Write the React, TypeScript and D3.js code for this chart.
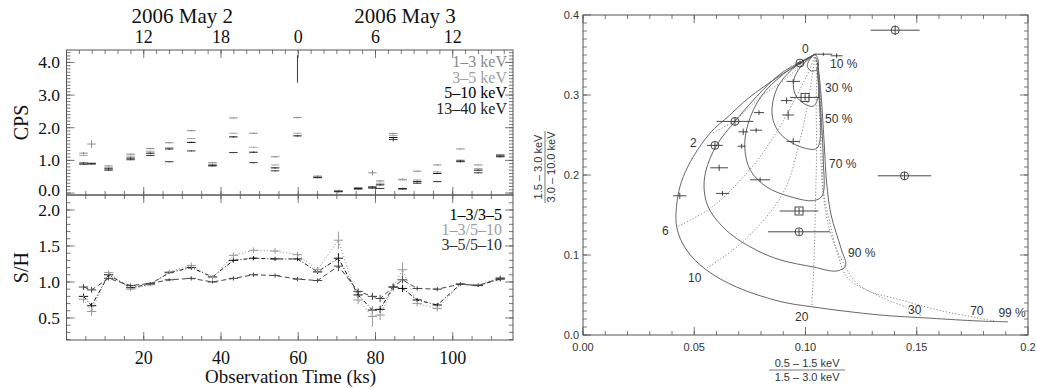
import React, { useEffect, useRef } from 'react';
import * as d3 from 'd3';

// time bins (ks) shared by both light-curve panels
const times = [4.4, 6.5, 10.9, 16.6, 21.7, 26.6, 32.3, 37.8, 43.2, 48.4, 54.0, 59.8, 65.0, 70.4, 75.5, 79.2, 81.2, 84.6, 87.0, 90.8, 96.0, 102.0, 106.6, 112.3];

// count rates per band
const cps13 = [1.22, 1.50, 0.83, 1.19, 1.36, 1.54, 1.91, 0.93, 2.30, 1.83, 1.11, 2.31, 0.52, 0.08, 0.17, 0.62, 0.37, 1.82, 0.42, 0.67, 0.86, 1.35, 0.86, 1.18];
const cps35 = [1.15, 0.92, 0.78, 1.13, 1.28, 1.39, 1.67, 0.88, 1.83, 1.40, 0.86, 1.83, 0.50, 0.06, 0.15, 0.20, 0.30, 1.76, 0.40, 0.40, 0.65, 1.01, 0.75, 1.15];
const cps510 = [0.92, 0.90, 0.74, 1.07, 1.22, 1.35, 1.55, 0.85, 1.72, 1.25, 0.77, 1.75, 0.48, 0.05, 0.14, 0.18, 0.25, 1.70, 0.14, 0.35, 0.60, 0.98, 0.70, 1.13];
const cps1340 = [0.88, 0.89, 0.70, 1.02, 1.15, 0.96, 1.29, 0.83, 1.24, 0.93, 0.68, 3.80, 0.47, 0.04, 0.12, 0.15, 0.14, 1.64, 0.12, 0.30, 0.35, 0.96, 0.62, 1.11];
const cpsErr13 = [0.04, 0.12, 0.02, 0.02, 0.02, 0.02, 0.02, 0.02, 0.02, 0.02, 0.02, 0.02, 0.02, 0.02, 0.02, 0.08, 0.03, 0.03, 0.03, 0.02, 0.02, 0.02, 0.02, 0.02];
const cpsErr1340 = [0.02, 0.02, 0.02, 0.02, 0.02, 0.02, 0.02, 0.02, 0.02, 0.02, 0.02, 0.42, 0.02, 0.02, 0.02, 0.02, 0.02, 0.06, 0.02, 0.02, 0.02, 0.02, 0.02, 0.02];

// hardness ratios
const hr13_35 = [0.80, 0.67, 1.10, 0.92, 0.97, 1.13, 1.20, 1.07, 1.30, 1.33, 1.32, 1.32, 1.14, 1.33, 0.82, 0.61, 0.62, 0.93, 0.91, 0.75, 0.68, 0.97, 0.95, 1.04];
const hr13_510 = [0.76, 0.59, 1.13, 0.90, 0.96, 1.14, 1.23, 1.06, 1.37, 1.44, 1.43, 1.38, 1.17, 1.58, 0.75, 0.52, 0.54, 0.93, 1.17, 0.70, 0.63, 0.97, 0.96, 1.06];
const hr35_510 = [0.93, 0.89, 1.05, 0.95, 0.98, 1.03, 1.05, 1.00, 1.05, 1.10, 1.09, 1.04, 1.02, 1.22, 0.87, 0.80, 0.77, 0.93, 1.03, 0.91, 0.90, 0.97, 0.95, 1.05];
const hrErr13_35 = [0.04, 0.04, 0.03, 0.03, 0.02, 0.02, 0.03, 0.02, 0.03, 0.03, 0.03, 0.03, 0.03, 0.07, 0.04, 0.05, 0.05, 0.04, 0.05, 0.03, 0.03, 0.02, 0.02, 0.03];
const hrErr13_510 = [0.05, 0.06, 0.03, 0.03, 0.02, 0.03, 0.04, 0.03, 0.04, 0.04, 0.04, 0.04, 0.04, 0.12, 0.06, 0.14, 0.07, 0.06, 0.10, 0.04, 0.04, 0.03, 0.03, 0.03];

// axes of the light curves
const hourTicks = [12, 18, 24, 30, 36];
const hourLabels = ['12', '18', '0', '6', '12'];
const ksTicks = [20, 40, 60, 80, 100];
const cpsTicks = [0, 1, 2, 3, 4];
const hrTicks = [0.5, 1.0, 1.5, 2.0];
const cpsLegend = ['1\u20133 keV', '3\u20135 keV', '5\u201310 keV', '13\u201340 keV'];
const hrLegend = ['1\u20133/3\u20135', '1\u20133/5\u201310', '3\u20135/5\u201310'];

// colour-colour diagram: observed points
const ccX = [0.1403, 0.1445, 0.0998, 0.0971, 0.0971, 0.0683, 0.0593, 0.0975, 0.0945, 0.0915, 0.0922, 0.0791, 0.0720, 0.0778, 0.0945, 0.0713, 0.0612, 0.0796, 0.0627, 0.0435, 0.1140, 0.1080];
const ccY = [0.381, 0.199, 0.297, 0.155, 0.129, 0.267, 0.237, 0.340, 0.317, 0.293, 0.275, 0.278, 0.254, 0.256, 0.242, 0.236, 0.209, 0.194, 0.177, 0.174, 0.349, 0.351];
const ccXErr = [0.011, 0.012, 0.0067, 0.0087, 0.0139, 0.0083, 0.0036, 0.0015, 0.003, 0.0026, 0.0026, 0.0023, 0.0022, 0.0027, 0.003, 0.0018, 0.004, 0.0045, 0.003, 0.003, 0.0027, 0.004];
const ccYErr = [0.006, 0.005, 0.004, 0.004, 0.004, 0.005, 0.004, 0.003, 0.003, 0.004, 0.006, 0.003, 0.004, 0.003, 0.004, 0.003, 0.004, 0.003, 0.003, 0.004, 0.003, 0.002];
const ccMark = ['o', 'o', 's', 's', 'o', 'o', 'o', 'o', '+', '+', '+', '+', '+', '+', '+', '+', '+', '+', '+', '+', '+', '+'];

// partial-covering model grid: constant covering fraction (solid)
const cover10 = [[0.1043, 0.351], [0.1018, 0.344], [0.1008, 0.336], [0.1025, 0.330], [0.1052, 0.332], [0.1058, 0.342], [0.1048, 0.350]];
const cover30 = [[0.1043, 0.351], [0.098, 0.336], [0.0947, 0.318], [0.0955, 0.300], [0.0995, 0.289], [0.1035, 0.286], [0.1058, 0.298], [0.1060, 0.325], [0.1050, 0.346]];
const cover50 = [[0.1043, 0.351], [0.094, 0.332], [0.0875, 0.310], [0.0850, 0.285], [0.0855, 0.268], [0.0885, 0.252], [0.094, 0.240], [0.1005, 0.233], [0.1050, 0.233], [0.1066, 0.245], [0.1063, 0.290], [0.1052, 0.335]];
const cover70 = [[0.1043, 0.351], [0.090, 0.326], [0.0800, 0.298], [0.0743, 0.265], [0.0727, 0.235], [0.0752, 0.206], [0.0826, 0.185], [0.093, 0.173], [0.1035, 0.168], [0.1075, 0.174], [0.108, 0.219], [0.1068, 0.281], [0.1055, 0.330]];
const cover90 = [[0.1043, 0.351], [0.089, 0.327], [0.0780, 0.298], [0.0683, 0.267], [0.0600, 0.237], [0.0552, 0.205], [0.0545, 0.180], [0.057, 0.156], [0.066, 0.127], [0.078, 0.106], [0.0885, 0.094], [0.1035, 0.085], [0.1140, 0.080], [0.1180, 0.0865], [0.1160, 0.108], [0.1115, 0.150], [0.1095, 0.190], [0.1085, 0.235], [0.1070, 0.300], [0.1055, 0.340]];
const cover99 = [[0.1043, 0.351], [0.089, 0.325], [0.0743, 0.296], [0.066, 0.275], [0.057, 0.252], [0.0496, 0.223], [0.0451, 0.198], [0.0426, 0.173], [0.0421, 0.135], [0.0466, 0.106], [0.0556, 0.081], [0.069, 0.060], [0.0885, 0.042], [0.1035, 0.035], [0.1335, 0.025], [0.156, 0.021], [0.178, 0.0175], [0.191, 0.0165]];

// constant column density (dotted)
const nh2 = [[0.1043, 0.351], [0.1005, 0.342], [0.097, 0.334], [0.090, 0.318], [0.080, 0.298], [0.068, 0.268], [0.058, 0.252]];
const nh6 = [[0.1043, 0.351], [0.1022, 0.334], [0.0958, 0.298], [0.0875, 0.256], [0.076, 0.210], [0.058, 0.160], [0.0421, 0.135]];
const nh10 = [[0.1043, 0.351], [0.1035, 0.333], [0.1013, 0.294], [0.0978, 0.247], [0.090, 0.178], [0.072, 0.117], [0.0553, 0.083]];
const nh20 = [[0.1043, 0.351], [0.1050, 0.330], [0.1048, 0.286], [0.1050, 0.233], [0.1045, 0.169], [0.1038, 0.090], [0.1028, 0.035]];
const nh30 = [[0.1043, 0.351], [0.1058, 0.325], [0.1060, 0.300], [0.1066, 0.250], [0.1078, 0.180], [0.1115, 0.125], [0.1180, 0.085], [0.123, 0.065], [0.1335, 0.048], [0.1455, 0.034], [0.152, 0.024]];
const nh70 = [[0.1043, 0.351], [0.1062, 0.320], [0.1070, 0.280], [0.1075, 0.230], [0.108, 0.181], [0.111, 0.140], [0.1148, 0.098], [0.1185, 0.073], [0.1275, 0.056], [0.1425, 0.044], [0.160, 0.031], [0.176, 0.022], [0.185, 0.0175]];

const gridLabels = ['0', '10 %', '30 %', '50 %', '70 %', '90 %', '99 %', '70', '30', '20', '10', '6', '2'];
const gridLabelX = [0.0984, 0.1110, 0.1088, 0.1088, 0.1106, 0.1191, 0.1867, 0.1740, 0.1461, 0.0953, 0.0472, 0.0355, 0.0481];
const gridLabelY = [0.3525, 0.334, 0.304, 0.265, 0.209, 0.098, 0.0225, 0.025, 0.026, 0.0175, 0.066, 0.125, 0.235];

const ccXTicks = [0, 0.05, 0.1, 0.15, 0.2];
const ccXLabels = ['0.00', '0.05', '0.10', '0.15', '0.2'];
const ccYTicks = [0, 0.1, 0.2, 0.3, 0.4];

const App: React.FC = () => {
  const svgRef = useRef<SVGSVGElement>(null);

  useEffect(() => {
    if (!svgRef.current) return;
    const svg = d3.select(svgRef.current);
    svg.selectAll('*').remove();

    const serif = '"Liberation Serif", "Times New Roman", serif';
    const sans = '"Liberation Sans", Arial, sans-serif';
    const axisCol = '#555';

    const ticks = (g: any, vals: number[], pos: (v: number) => number, at: number, len: number, vertical: boolean) => {
      g.append('g').selectAll('line').data(vals).join('line')
        .attr('x1', (d: number) => (vertical ? pos(d) : at))
        .attr('x2', (d: number) => (vertical ? pos(d) : at + len))
        .attr('y1', (d: number) => (vertical ? at : pos(d)))
        .attr('y2', (d: number) => (vertical ? at + len : pos(d)))
        .attr('stroke', axisCol)
        .attr('stroke-width', 0.8);
    };
    const frame = (x0: number, y0: number, x1: number, y1: number) =>
      svg.append('rect').attr('x', x0).attr('y', y0).attr('width', x1 - x0).attr('height', y1 - y0)
        .attr('fill', 'none').attr('stroke', axisCol).attr('stroke-width', 1);

    // ---------- left: light curve + hardness ----------
    const xT = d3.scaleLinear().domain([0, 115.6]).range([66.5, 513]);
    const xH = d3.scaleLinear().domain([6, 40.68]).range([66.5, 513]);
    const yC = d3.scaleLinear().domain([-0.06, 4.38]).range([195, 50]);
    const yS = d3.scaleLinear().domain([0.194, 2.208]).range([340, 195]);

    frame(66.5, 50, 513, 195);
    frame(66.5, 195, 513, 340);

    const ksMinor = d3.range(5, 115, 5);
    const hourMinor = d3.range(7, 41, 1);
    ticks(svg, hourMinor, xH, 50, 4, true);
    ticks(svg, hourTicks, xH, 50, 8, true);
    ticks(svg, ksMinor, xT, 195, -4, true);
    ticks(svg, ksTicks, xT, 195, -8, true);
    ticks(svg, ksMinor, xT, 195, 4, true);
    ticks(svg, ksTicks, xT, 195, 8, true);
    ticks(svg, ksMinor, xT, 340, -4, true);
    ticks(svg, ksTicks, xT, 340, -8, true);

    const cpsMinor = d3.range(0, 4.35, 0.1);
    ticks(svg, cpsMinor, yC, 66.5, 4, false);
    ticks(svg, cpsTicks, yC, 66.5, 8, false);
    ticks(svg, cpsMinor, yC, 513, -4, false);
    ticks(svg, cpsTicks, yC, 513, -8, false);
    const hrMinor = d3.range(0.2, 2.2, 0.1);
    ticks(svg, hrMinor, yS, 66.5, 4, false);
    ticks(svg, hrTicks, yS, 66.5, 8, false);
    ticks(svg, hrMinor, yS, 513, -4, false);
    ticks(svg, hrTicks, yS, 513, -8, false);

    const txt = (x: number, y: number, s: string, size: number, anchor: string, fill = '#111', family = serif) =>
      svg.append('text').attr('x', x).attr('y', y).attr('font-family', family).attr('font-size', size)
        .attr('text-anchor', anchor).attr('fill', fill).text(s);

    hourTicks.forEach((h, i) => txt(xH(h), 43, hourLabels[i], 18, 'middle'));
    txt(xH(15), 23, '2006 May 2', 21, 'middle');
    txt(xH(32.3), 23, '2006 May 3', 21, 'middle');
    cpsTicks.forEach((v) => txt(60, yC(v) + (v === 0 ? 3 : 6), v.toFixed(1), 17.5, 'end'));
    hrTicks.forEach((v) => txt(60, yS(v) + 6, v.toFixed(1), 17.5, 'end'));
    ksTicks.forEach((v) => txt(xT(v), 364, String(v), 18, 'middle'));
    txt(xT(58), 383, 'Observation Time (ks)', 19, 'middle');

    svg.append('text').attr('transform', `translate(28,${(yC(4.38) + yC(-0.06)) / 2}) rotate(-90)`)
      .attr('font-family', serif).attr('font-size', 20).attr('text-anchor', 'middle').attr('fill', '#111').text('CPS');
    svg.append('text').attr('transform', `translate(28,${yS(1.2)}) rotate(-90)`)
      .attr('font-family', serif).attr('font-size', 20).attr('text-anchor', 'middle').attr('fill', '#111').text('S/H');

    // count-rate bars
    const cpsSeries = [
      { v: cps13, e: cpsErr13, c: '#8a8a8a' },
      { v: cps35, e: null, c: '#a8a8a8' },
      { v: cps510, e: null, c: '#111' },
      { v: cps1340, e: cpsErr1340, c: '#3a3a3a' },
    ];
    const lc = svg.append('g');
    cpsSeries.forEach((s) => {
      times.forEach((t, i) => {
        const v = s.v[i];
        const e = s.e ? s.e[i] : 0.02;
        if (e < 0.3) {
          lc.append('line').attr('x1', xT(t - 1.1)).attr('x2', xT(t + 1.1)).attr('y1', yC(v)).attr('y2', yC(v))
            .attr('stroke', s.c).attr('stroke-width', 1);
        }
        lc.append('line').attr('x1', xT(t)).attr('x2', xT(t)).attr('y1', yC(Math.min(v + e, 4.38))).attr('y2', yC(v - e))
          .attr('stroke', s.c).attr('stroke-width', 1);
      });
    });
    const legCol = ['#8a8a8a', '#a0a0a0', '#000', '#222'];
    cpsLegend.forEach((s, i) => txt(507, 67 + i * 15.5, s, 16, 'end', legCol[i]));

    // hardness ratio curves
    const hrSeries = [
      { v: hr13_35, e: hrErr13_35, c: '#111', dash: '4,2,1,2' },
      { v: hr13_510, e: hrErr13_510, c: '#999', dash: '1.2,2' },
      { v: hr35_510, e: hrErr13_35, c: '#444', dash: '5,3' },
    ];
    const hr = svg.append('g');
    hrSeries.forEach((s) => {
      const line = d3.line<number>().x((_, i) => xT(times[i])).y((d) => yS(d));
      hr.append('path').attr('d', line(s.v)).attr('fill', 'none').attr('stroke', s.c)
        .attr('stroke-width', 1).attr('stroke-dasharray', s.dash);
      times.forEach((t, i) => {
        const v = s.v[i];
        hr.append('line').attr('x1', xT(t - 1.2)).attr('x2', xT(t + 1.2)).attr('y1', yS(v)).attr('y2', yS(v))
          .attr('stroke', s.c).attr('stroke-width', 1);
        hr.append('line').attr('x1', xT(t)).attr('x2', xT(t)).attr('y1', yS(v + s.e[i])).attr('y2', yS(v - s.e[i]))
          .attr('stroke', s.c).attr('stroke-width', 1);
      });
    });
    const hrLegCol = ['#000', '#a0a0a0', '#333'];
    hrLegend.forEach((s, i) => txt(502, 220 + i * 15, s, 16, 'end', hrLegCol[i]));

    // ---------- right: colour-colour diagram ----------
    const xR = d3.scaleLinear().domain([0, 0.2]).range([583, 1028]);
    const yR = d3.scaleLinear().domain([0, 0.4]).range([335, 15]);
    frame(583, 15, 1028, 335);
    const rxMinor = d3.range(0, 0.2, 0.01);
    const ryMinor = d3.range(0, 0.4, 0.01);
    ticks(svg, rxMinor, xR, 335, -4, true);
    ticks(svg, ccXTicks, xR, 335, -8, true);
    ticks(svg, rxMinor, xR, 15, 4, true);
    ticks(svg, ccXTicks, xR, 15, 8, true);
    ticks(svg, ryMinor, yR, 583, 4, false);
    ticks(svg, ccYTicks, yR, 583, 8, false);
    ticks(svg, ryMinor, yR, 1028, -4, false);
    ticks(svg, ccYTicks, yR, 1028, -8, false);

    ccXTicks.forEach((v, i) => txt(xR(v), 351, ccXLabels[i], 11, 'middle', '#333', sans));
    ccYTicks.forEach((v) => txt(579, yR(v) + 4, v.toFixed(1), 11, 'end', '#333', sans));

    const curve = d3.line<number[]>().x((d) => xR(d[0])).y((d) => yR(d[1])).curve(d3.curveCatmullRom.alpha(0.5));
    const grid = svg.append('g');
    [cover10, cover30, cover50, cover70, cover90, cover99].forEach((c) =>
      grid.append('path').attr('d', curve(c)).attr('fill', 'none').attr('stroke', '#555').attr('stroke-width', 0.9));
    [nh2, nh6, nh10, nh20, nh30, nh70].forEach((c) =>
      grid.append('path').attr('d', curve(c)).attr('fill', 'none').attr('stroke', '#777').attr('stroke-width', 0.9)
        .attr('stroke-dasharray', '1.2,2'));
    gridLabels.forEach((s, i) => txt(xR(gridLabelX[i]), yR(gridLabelY[i]), s, 12, 'start', '#333', sans));

    const pts = svg.append('g');
    ccX.forEach((x, i) => {
      const y = ccY[i];
      pts.append('line').attr('x1', xR(x - ccXErr[i])).attr('x2', xR(x + ccXErr[i])).attr('y1', yR(y)).attr('y2', yR(y))
        .attr('stroke', '#333').attr('stroke-width', 0.9);
      pts.append('line').attr('x1', xR(x)).attr('x2', xR(x)).attr('y1', yR(y + ccYErr[i])).attr('y2', yR(y - ccYErr[i]))
        .attr('stroke', '#333').attr('stroke-width', 0.9);
      if (ccMark[i] === 'o') {
        pts.append('circle').attr('cx', xR(x)).attr('cy', yR(y)).attr('r', 4)
          .attr('fill', 'none').attr('stroke', '#333').attr('stroke-width', 0.9);
      } else if (ccMark[i] === 's') {
        pts.append('rect').attr('x', xR(x) - 4).attr('y', yR(y) - 4).attr('width', 8).attr('height', 8)
          .attr('fill', 'none').attr('stroke', '#333').attr('stroke-width', 0.9);
      }
    });

    // fraction-style axis titles
    const yt = svg.append('g').attr('transform', `translate(545,${yR(0.21)}) rotate(-90)`);
    yt.append('text').attr('y', -3).attr('text-anchor', 'middle').attr('font-family', sans).attr('font-size', 11)
      .attr('fill', '#333').text('1.5 \u2013 3.0 keV');
    yt.append('line').attr('x1', -36).attr('x2', 36).attr('y1', 0).attr('y2', 0).attr('stroke', '#555').attr('stroke-width', 0.8);
    yt.append('text').attr('y', 10).attr('text-anchor', 'middle').attr('font-family', sans).attr('font-size', 11)
      .attr('fill', '#333').text('3.0 \u2013 10.0 keV');
    const xtg = svg.append('g').attr('transform', `translate(${xR(0.1007)},370)`);
    xtg.append('text').attr('y', -3).attr('text-anchor', 'middle').attr('font-family', sans).attr('font-size', 11)
      .attr('fill', '#333').text('0.5 \u2013 1.5 keV');
    xtg.append('line').attr('x1', -38).attr('x2', 38).attr('y1', 0).attr('y2', 0).attr('stroke', '#555').attr('stroke-width', 0.8);
    xtg.append('text').attr('y', 11).attr('text-anchor', 'middle').attr('font-family', sans).attr('font-size', 11)
      .attr('fill', '#333').text('1.5 \u2013 3.0 keV');
  }, []);

  return (
    <svg
      ref={svgRef}
      width={1037}
      height={388}
      style={{ position: 'absolute', left: 0, top: 0, background: '#fff' }}
    />
  );
};

export default App;
